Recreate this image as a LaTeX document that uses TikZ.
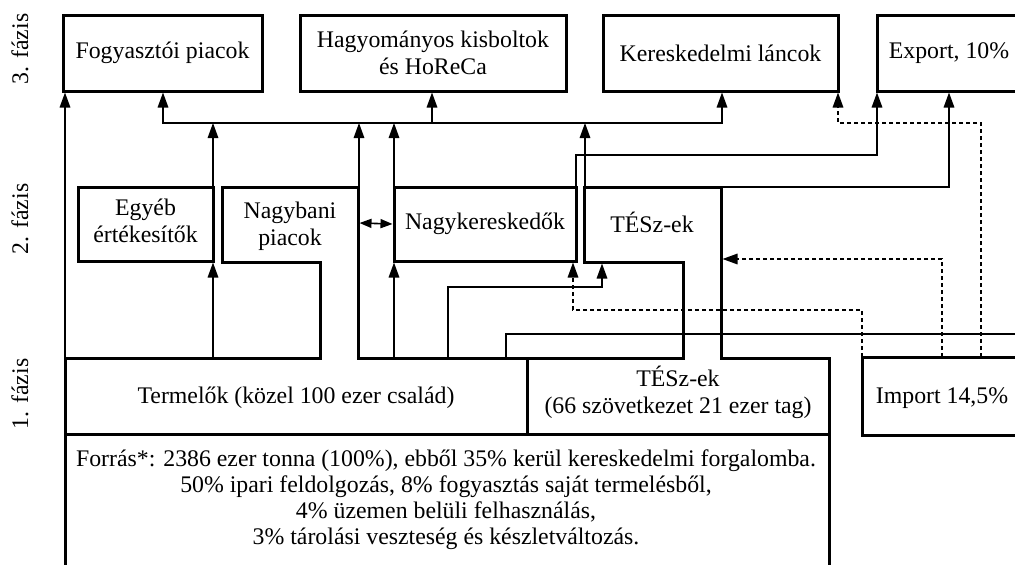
\documentclass[tikz,border=0pt]{standalone}
\usepackage{fontspec}
\setmainfont{Liberation Serif}
\usetikzlibrary{arrows.meta}
\begin{document}
\begin{tikzpicture}[x=1pt,y=-1pt,
  every node/.style={font=\fontsize{23.8}{27}\selectfont, align=center, inner sep=0pt},
  box/.style={draw, line width=3pt, minimum height=76pt},
  outline/.style={line width=3pt, line join=miter},
  conn/.style={line width=1.6pt},
  dconn/.style={line width=1.6pt, dash pattern=on 4pt off 3pt},
  tip/.style={-{Triangle[length=15pt,width=10.5pt]}},
  tipboth/.style={{Triangle[length=15pt,width=10.5pt]}-{Triangle[length=15pt,width=10.5pt]}},
  tipsmall/.style={{Triangle[length=12pt,width=9pt]}-{Triangle[length=12pt,width=9pt]}},
  ]
\useasboundingbox (0,0) rectangle (1015,565);
\clip (0,0) rectangle (1015,565);

% phase labels
\node[rotate=90] (f3) at (20,49) {3. fázis};
\node[rotate=90] (f2) at (20,219) {2. fázis};
\node[rotate=90] (f1) at (20,394) {1. fázis};

% phase 3 boxes
\node[box, minimum width=199pt] (fp) at (162.5,53) {Fogyasztói piacok};
\node[box, minimum width=266pt] (hk) at (433,53) {Hagyományos kisboltok\\és HoReCa};
\node[box, minimum width=235pt] (kl) at (720.5,53) {Kereskedelmi láncok};
\node[box, minimum width=144pt] (ex) at (949,53) {Export, 10\%};

% phase 2 boxes
\node[box, minimum width=135pt, minimum height=74pt] (eg) at (145.5,224) {};
\node (egt) at (145.5,220.5) {Egyéb\\értékesítők};
\node[box, minimum width=182pt, minimum height=74pt] (nk) at (485,224) {Nagykereskedők};

% merged outline: Nagybani + Termelők + TÉSz-ek + Forrás
\draw[outline] (65,580) -- (65,358) -- (320,358) -- (320,262) -- (222,262) -- (222,187)
  -- (358,187) -- (358,358) -- (683,358) -- (683,262) -- (584,262) -- (584,187)
  -- (721,187) -- (721,358) -- (829,358) -- (829,580);
\draw[outline] (65,434) -- (829,434) (527,358) -- (527,434);

\node (nb) at (290,226) {Nagybani\\piacok};
\node (tsz2) at (652,222) {TÉSz-ek};
\node (term) at (296,398) {Termelők (közel 100 ezer család)};
\node (tsz1) at (678,392) {TÉSz-ek\\(66 szövetkezet 21 ezer tag)};
\node[box, minimum width=160pt, minimum height=78pt] (im) at (942,396) {};
\node (imt) at (942,398) {Import 14,5\%};
\node[font=\fontsize{23.8}{26}\selectfont] (forras) at (446,499.5)
  {Forrás*: 2386 ezer tonna (100\%), ebből 35\% kerül kereskedelmi forgalomba.\\
   50\% ipari feldolgozás, 8\% fogyasztás saját termelésből,\\
   4\% üzemen belüli felhasználás,\\
   3\% tárolási veszteség és készletváltozás.};

% coordinates
\coordinate (b1) at (163,123);
\coordinate (b2) at (432,123);
\coordinate (b3) at (722,123);
\coordinate (t1) at (65,358);
\coordinate (t2) at (213,358);
\coordinate (t3) at (394,358);
\coordinate (t4) at (448,358);
\coordinate (t5) at (506,358);
\coordinate (n1) at (359,187);
\coordinate (s1) at (585,187);
\coordinate (s2) at (721,187);
\coordinate (k2) at (576,187);
\coordinate (sb) at (602,263.5);
\coordinate (se) at (722.5,259);
\coordinate (rt) at (1020,334);
\coordinate (i1) at (862,357);
\coordinate (i2) at (942,357);
\coordinate (i3) at (981,357);
\coordinate (h1) at (448,287);
\coordinate (h2) at (576,155);
\coordinate (h3) at (877,155);
\coordinate (d1) at (862,310);
\coordinate (d2) at (573,310);
\coordinate (d3) at (838,123);

% bus
\draw[conn, tipboth] (b1 |- fp.south) -- (b1) -- (b3) -- (b3 |- kl.south);
\draw[conn, tip] (b2) -- (b2 |- hk.south);

% solid connectors
\draw[conn, tip] (t1) -- (t1 |- fp.south);
\draw[conn, tip] (t2) -- (t2 |- eg.south);
\draw[conn, tip] (eg.north -| t2) -- (t2 |- b1);
\draw[conn, tip] (n1) -- (n1 |- b1);
\draw[conn, tip] (nk.north -| t3) -- (t3 |- b1);
\draw[conn, tip] (t3) -- (t3 |- nk.south);
\draw[conn, tipsmall] (359.5,223) -- (nk.west);
\draw[conn, tip] (t4) -- (h1) -- (sb |- h1) -- (sb);
\draw[conn, tip] (s1) -- (s1 |- b1);
\draw[conn, tip] (k2) -- (h2) -- (h3) -- (h3 |- ex.south);
\draw[conn, tip] (s2) -- (ex.south |- s2) -- (ex.south);
\draw[conn] (t5) -- (t5 |- rt) -- (rt);

% dashed import connectors
\draw[dconn, tip] (i1) -- (d1) -- (d2) -- (d2 |- nk.south);
\draw[dconn, tip] (i2) -- (i2 |- se) -- (se);
\draw[dconn, tip] (i3) -- (i3 |- d3) -- (d3) -- (d3 |- kl.south);
\end{tikzpicture}
\end{document}
